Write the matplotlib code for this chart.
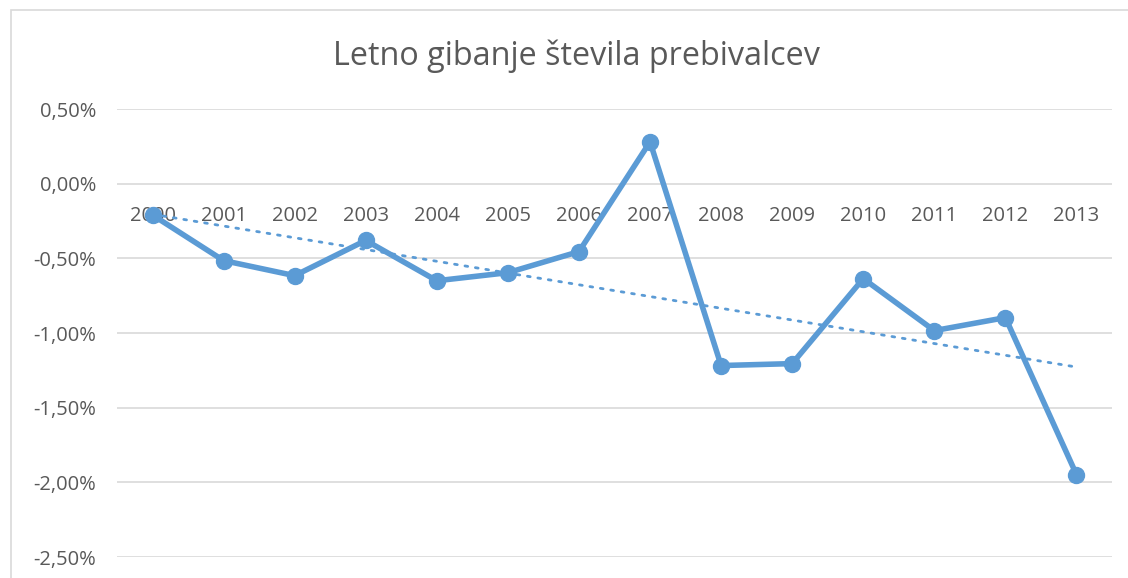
import numpy as np
import matplotlib.pyplot as plt
from matplotlib.patches import Rectangle
from matplotlib.ticker import FuncFormatter

years = ['2000', '2001', '2002', '2003', '2004', '2005', '2006',
         '2007', '2008', '2009', '2010', '2011', '2012', '2013']
change_pct = [-0.21, -0.515, -0.616, -0.38, -0.65, -0.596, -0.455,
              0.28, -1.218, -1.205, -0.636, -0.984, -0.897, -1.948]
title = 'Letno gibanje števila prebivalcev'

blue = '#5B9BD5'
grey_text = '#595959'
grid_col = '#D9D9D9'

plt.rcParams['font.family'] = ['Open Sans', 'DejaVu Sans']

W, H = 1128, 578
fig = plt.figure(figsize=(W / 100, H / 100), dpi=100)

# chart area border (only left and top visible, rest is cropped)
fig.patches.append(Rectangle((11 / W, -0.5), 2, 1.5 - 10 / H,
                             transform=fig.transFigure, fill=False,
                             edgecolor=grid_col, linewidth=1.2))

ax = fig.add_axes([117 / W, 21 / H, 995 / W, 448 / H])

x = np.arange(len(years))
ax.plot(x, change_pct, color=blue, linewidth=4.0, marker='o',
        markersize=11.5, zorder=3, solid_capstyle='round')

# linear trend line
k, n = np.polyfit(x, change_pct, 1)
ax.plot(x, k * x + n, color=blue, linewidth=2.0, linestyle=(0, (1, 2.8)),
        dash_capstyle='round', zorder=2)

ax.set_xlim(-0.5, len(years) - 0.5)
ax.set_ylim(-2.5, 0.5)
ax.set_yticks(np.arange(-2.5, 0.51, 0.5))
ax.yaxis.set_major_formatter(
    FuncFormatter(lambda v, p: f'{v:.2f}%'.replace('.', ',')))
ax.grid(axis='y', color=grid_col, linewidth=1.2)
ax.set_axisbelow(True)

ax.set_xticks(x)
ax.set_xticklabels(years)
ax.spines['bottom'].set_position(('data', 0))
for s in ax.spines.values():
    s.set_visible(False)
ax.tick_params(axis='x', length=0, pad=16, labelsize=14.5,
               labelcolor=grey_text)
ax.tick_params(axis='y', length=0, pad=15, labelsize=14.5,
               labelcolor=grey_text)

fig.text(576 / W, 1 - 56 / H, title, ha='center', va='center',
         fontsize=23.3, color=grey_text)

fig.savefig('out.png', dpi=100)
